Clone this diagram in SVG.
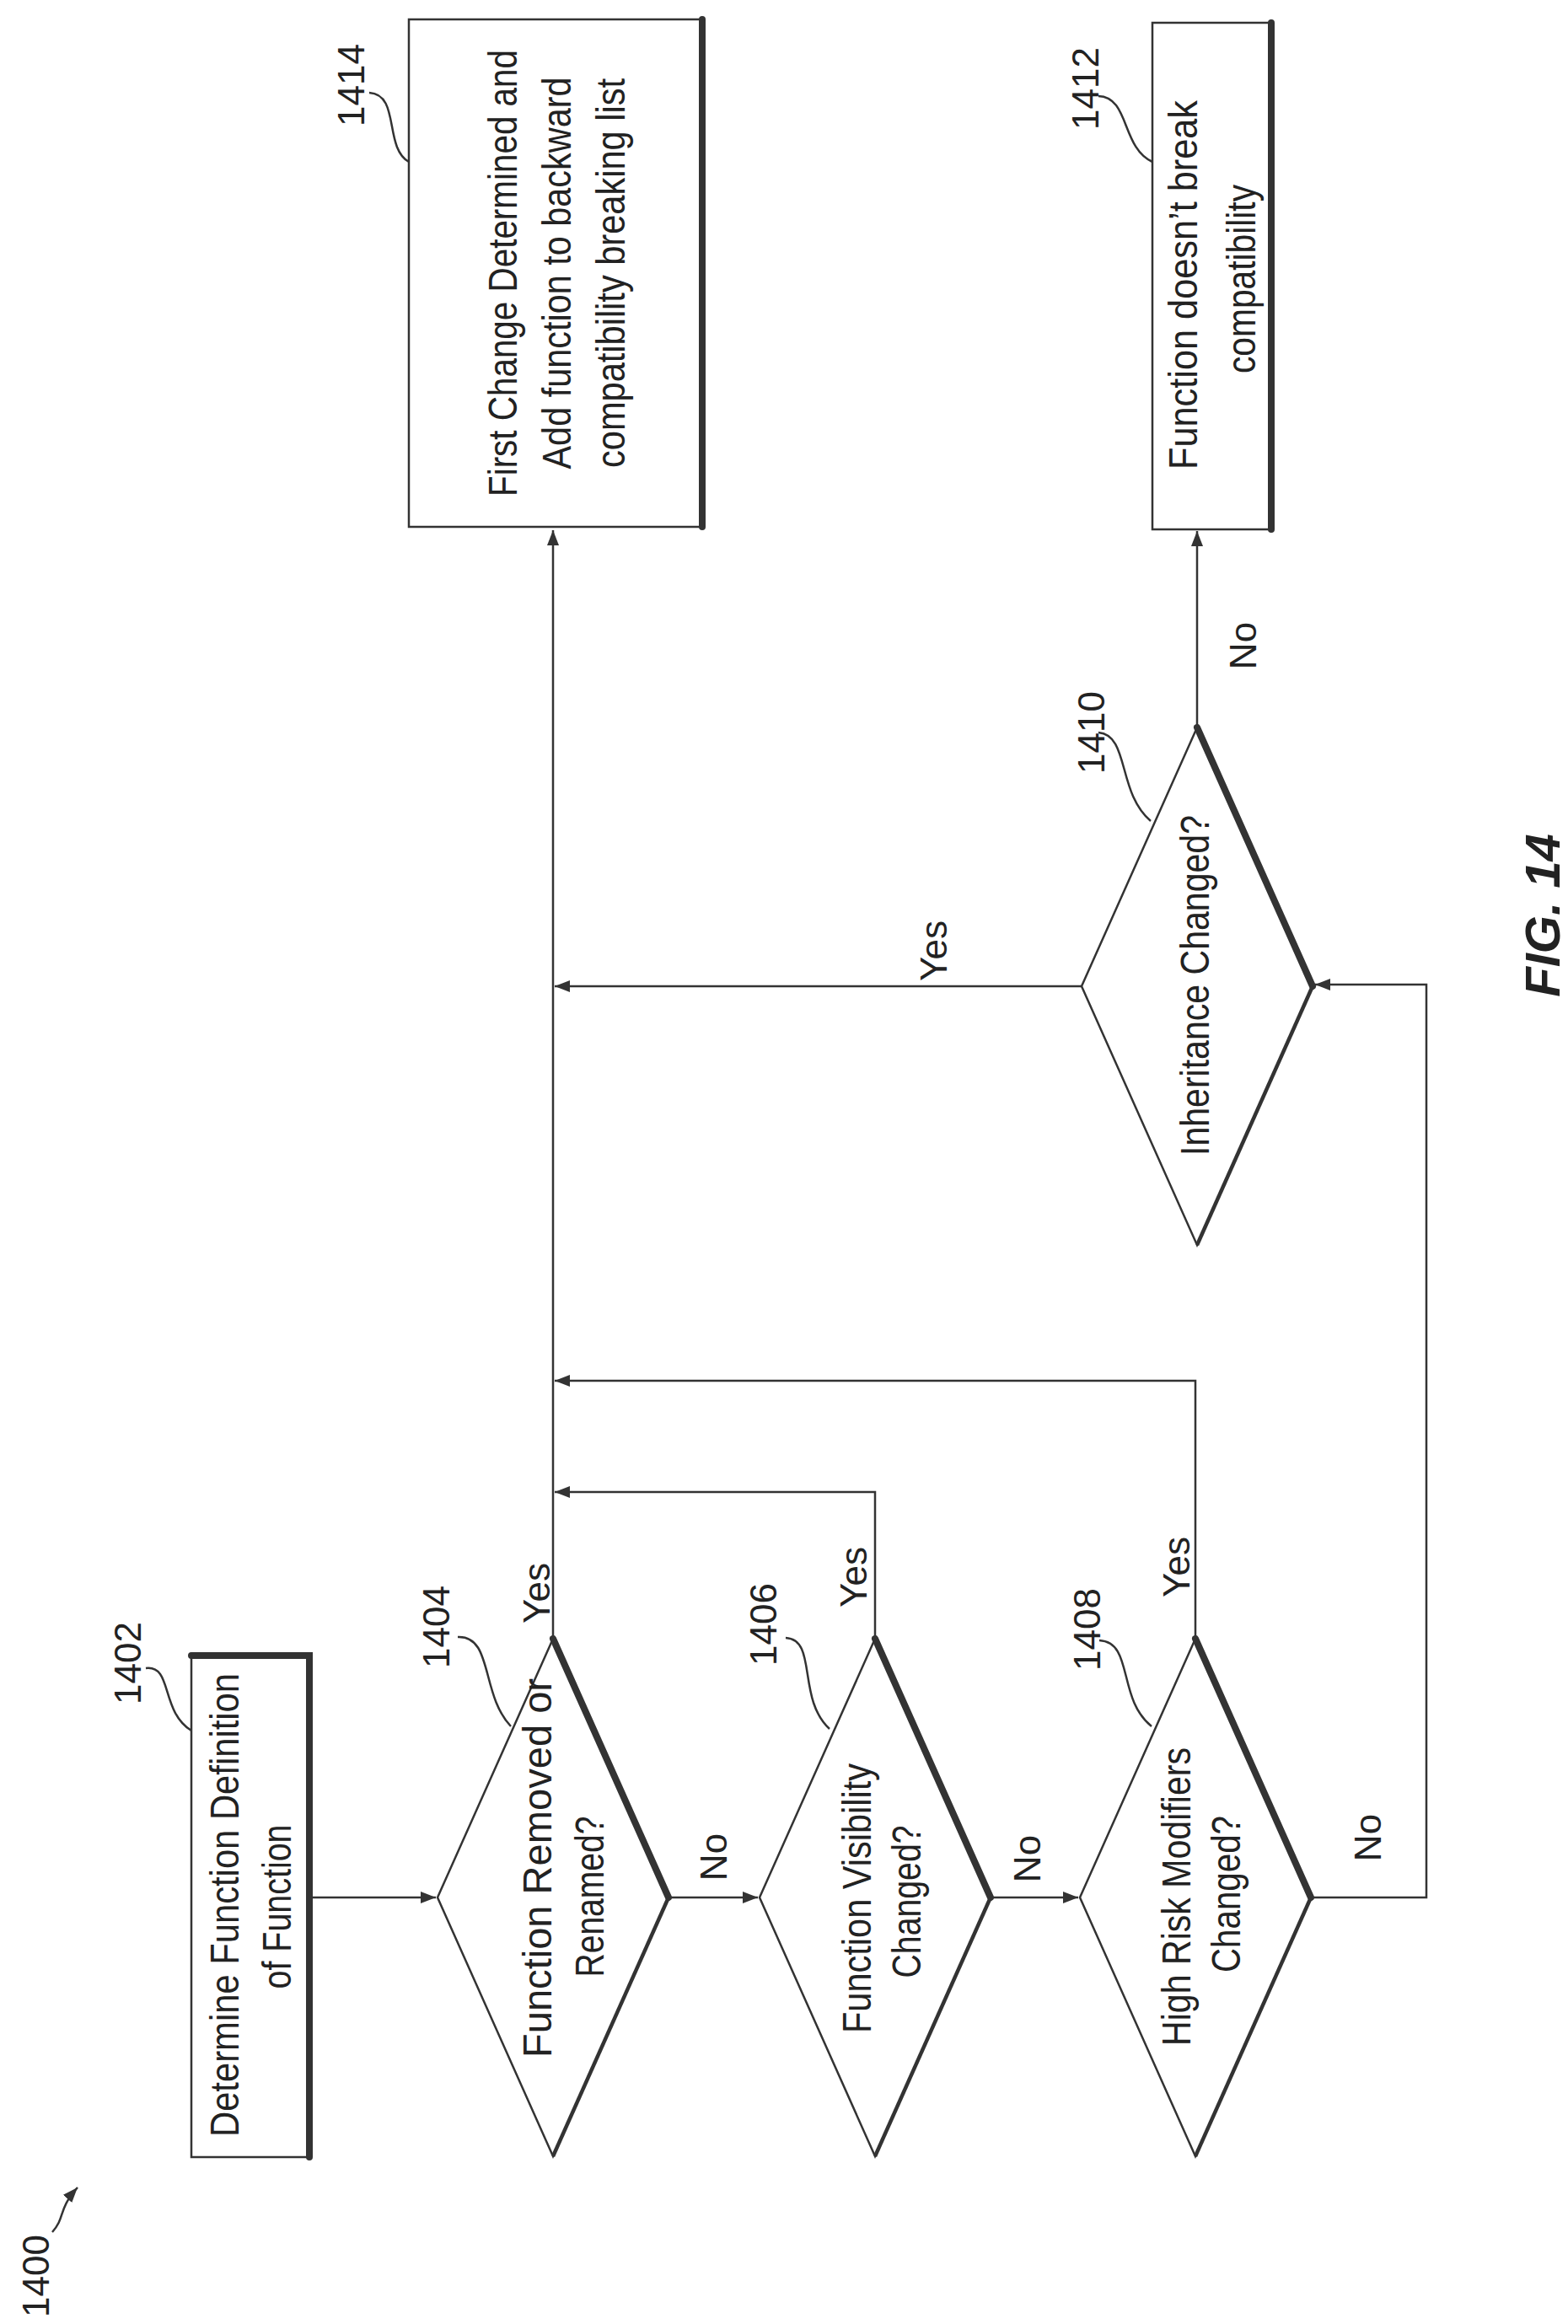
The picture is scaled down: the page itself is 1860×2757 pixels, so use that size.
<svg xmlns="http://www.w3.org/2000/svg" width="1860" height="2757" viewBox="0 0 1860 2757">
<defs>
<style>
.t{font-family:"Liberation Sans",Arial,sans-serif;font-size:48px;fill:#222;text-anchor:middle}
.s{font-family:"Liberation Sans",Arial,sans-serif;font-size:44px;fill:#222;text-anchor:middle}
.ln{fill:none;stroke:#333;stroke-width:2.5}
.sh{fill:none;stroke:#333;stroke-width:8;stroke-linecap:round}
.sh2{fill:none;stroke:#333;stroke-width:4.5}
.box{fill:#fff;stroke:#333;stroke-width:2.5}
</style>
<marker id="a" markerUnits="userSpaceOnUse" markerWidth="20" markerHeight="16" refX="18" refY="7" orient="auto"><path d="M0,0 L18,7 L0,14 z" fill="#333"/></marker>
</defs>
<rect width="1860" height="2757" fill="#fff"/>

<g id="connectors">
<path class="ln" d="M367,2251 H517" marker-end="url(#a)"/>
<path class="ln" d="M793,2251 H899" marker-end="url(#a)"/>
<path class="ln" d="M1175,2251 H1279" marker-end="url(#a)"/>
<path class="ln" d="M656,1944 V629" marker-end="url(#a)"/>
<path class="ln" d="M1038,1944 V1770 H658" marker-end="url(#a)"/>
<path class="ln" d="M1418,1944 V1638 H658" marker-end="url(#a)"/>
<path class="ln" d="M1283,1170 H658" marker-end="url(#a)"/>
<path class="ln" d="M1420,863 V630" marker-end="url(#a)"/>
<path class="ln" d="M1555,2251 H1692 V1168 H1560" marker-end="url(#a)"/>
<text class="s" transform="translate(652,1890) rotate(-90)">Yes</text>
<text class="s" transform="translate(1028,1871) rotate(-90)">Yes</text>
<text class="s" transform="translate(1411,1859) rotate(-90)">Yes</text>
<text class="s" transform="translate(1123,1128) rotate(-90)">Yes</text>
<text class="s" transform="translate(862,2203) rotate(-90)">No</text>
<text class="s" transform="translate(1234,2205) rotate(-90)">No</text>
<text class="s" transform="translate(1638,2180) rotate(-90)">No</text>
<text class="s" transform="translate(1490,766) rotate(-90)">No</text>
</g>

<g id="n1400">
<text class="s" transform="translate(58,2700) rotate(-90)">1400</text>
<path class="ln" d="M62,2648 C78,2630 68,2622 92,2595" marker-end="url(#a)"/>
</g>

<g id="n1402">
<rect class="box" x="227" y="1962" width="140" height="597"/>
<path class="sh" d="M227,1964 H367 V2559"/>
<text class="t" transform="translate(283,2260) rotate(-90)" textLength="550" lengthAdjust="spacingAndGlyphs">Determine Function Definition</text>
<text class="t" transform="translate(345,2262) rotate(-90)" textLength="195" lengthAdjust="spacingAndGlyphs">of Function</text>
<text class="s" transform="translate(167,1973) rotate(-90)">1402</text>
<path class="ln" d="M173,1979 C205,1975 190,2030 227,2053"/>
</g>

<g id="n1404">
<path class="box" d="M656,1944 L793,2251 L656,2558 L519,2251 Z"/>
<path class="sh" d="M656,1944 L793,2251"/>
<path class="sh2" d="M793,2251 L656,2558"/>
<text class="t" transform="translate(654,2216) rotate(-90)" textLength="450" lengthAdjust="spacingAndGlyphs">Function Removed or</text>
<text class="t" transform="translate(716,2250) rotate(-90)" textLength="191" lengthAdjust="spacingAndGlyphs">Renamed?</text>
<text class="s" transform="translate(533,1930) rotate(-90)">1404</text>
<path class="ln" d="M543,1942 C585,1940 570,2010 606,2048"/>
</g>

<g id="n1406">
<path class="box" d="M1038,1944 L1175,2251 L1038,2558 L901,2251 Z"/>
<path class="sh" d="M1038,1944 L1175,2251"/>
<path class="sh2" d="M1175,2251 L1038,2558"/>
<text class="t" transform="translate(1033,2252) rotate(-90)" textLength="320" lengthAdjust="spacingAndGlyphs">Function Visibility</text>
<text class="t" transform="translate(1092,2256) rotate(-90)" textLength="181" lengthAdjust="spacingAndGlyphs">Changed?</text>
<text class="s" transform="translate(921,1927) rotate(-90)">1406</text>
<path class="ln" d="M932,1943 C970,1945 945,2015 984,2051"/>
</g>

<g id="n1408">
<path class="box" d="M1418,1944 L1555,2251 L1418,2558 L1281,2251 Z"/>
<path class="sh" d="M1418,1944 L1555,2251"/>
<path class="sh2" d="M1555,2251 L1418,2558"/>
<text class="t" transform="translate(1412,2250) rotate(-90)" textLength="354" lengthAdjust="spacingAndGlyphs">High Risk Modifiers</text>
<text class="t" transform="translate(1471,2247) rotate(-90)" textLength="186" lengthAdjust="spacingAndGlyphs">Changed?</text>
<text class="s" transform="translate(1305,1933) rotate(-90)">1408</text>
<path class="ln" d="M1304,1946 C1345,1948 1325,2015 1366,2048"/>
</g>

<g id="n1410">
<path class="box" d="M1420,863 L1557,1170 L1420,1477 L1283,1170 Z"/>
<path class="sh" d="M1420,863 L1557,1170"/>
<path class="sh2" d="M1557,1170 L1420,1477"/>
<text class="t" transform="translate(1434,1169) rotate(-90)" textLength="404" lengthAdjust="spacingAndGlyphs">Inheritance Changed?</text>
<text class="s" transform="translate(1310,869) rotate(-90)">1410</text>
<path class="ln" d="M1303,869 C1340,872 1325,940 1365,974"/>
</g>

<g id="n1412">
<rect class="box" x="1367" y="27" width="141" height="601"/>
<path class="sh" d="M1508,27 V628"/>
<text class="t" transform="translate(1420,338) rotate(-90)" textLength="438" lengthAdjust="spacingAndGlyphs">Function doesn’t break</text>
<text class="t" transform="translate(1489,331) rotate(-90)" textLength="224" lengthAdjust="spacingAndGlyphs">compatibility</text>
<text class="s" transform="translate(1303,105) rotate(-90)">1412</text>
<path class="ln" d="M1303,114 C1340,115 1330,175 1367,192"/>
</g>

<g id="n1414">
<rect class="box" x="485" y="23" width="348" height="602"/>
<path class="sh" d="M833,23 V625"/>
<text class="t" transform="translate(613,324) rotate(-90)" textLength="530" lengthAdjust="spacingAndGlyphs">First Change Determined and</text>
<text class="t" transform="translate(677,324) rotate(-90)" textLength="465" lengthAdjust="spacingAndGlyphs">Add function to backward</text>
<text class="t" transform="translate(741,324) rotate(-90)" textLength="462" lengthAdjust="spacingAndGlyphs">compatibility breaking list</text>
<text class="s" transform="translate(432,101) rotate(-90)">1414</text>
<path class="ln" d="M438,110 C475,112 455,175 485,192"/>
</g>

<text transform="translate(1850,1086) rotate(-90)" style="font-family:'Liberation Sans',Arial,sans-serif;font-size:58px;font-weight:bold;font-style:italic;fill:#222;text-anchor:middle">FIG. 14</text>
</svg>
